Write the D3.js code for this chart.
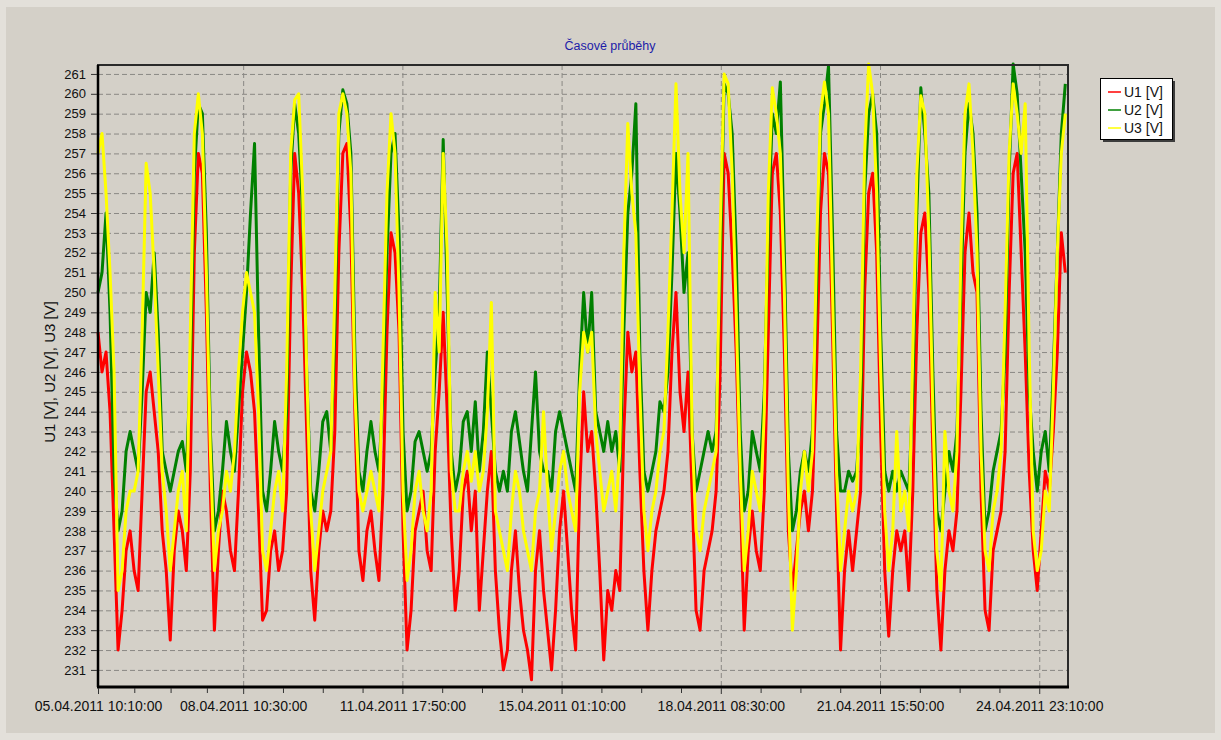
<!DOCTYPE html>
<html>
<head>
<meta charset="utf-8">
<script src="https://cdn.jsdelivr.net/npm/d3@7"></script>
<style>
  body { margin: 0; background: #d4d0c8; }
  svg { display: block; font-family: "Liberation Sans", Arial, sans-serif; }
</style>
</head>
<body>
<div id="chart"></div>
<script>
// Time range of the recording (samples every 2 hours)
const startTime = '05.04.2011 10:10:00';
const endTime = '25.04.2011 13:30:00';
const stepHours = 2;

// Labelled ticks on the time axis
const xTickLabels = [
    '05.04.2011 10:10:00', '08.04.2011 10:30:00', '11.04.2011 17:50:00',
    '15.04.2011 01:10:00', '18.04.2011 08:30:00', '21.04.2011 15:50:00',
    '24.04.2011 23:10:00'
];

const yTicks = [231, 232, 233, 234, 235, 236, 237, 238, 239, 240, 241, 242, 243, 244, 245, 246,
    247, 248, 249, 250, 251, 252, 253, 254, 255, 256, 257, 258, 259, 260, 261];

const seriesNames = ['U1 [V]', 'U2 [V]', 'U3 [V]'];
const seriesColors = ['#ff0000', '#008000', '#ffff00'];

// Voltages, one value per 2 h
const u1 = [
    248, 246, 247, 244, 238, 232, 234, 237, 238, 236,
    235, 240, 245, 246, 244, 242, 238, 236, 232.5, 237,
    239, 238, 236, 241, 252, 257, 256, 249, 240, 233,
    237, 240, 239, 237, 236, 240, 245, 247, 246, 244,
    239, 233.5, 234, 237, 238, 236, 237, 240, 250, 257,
    255, 250, 243, 236, 233.5, 237, 239, 238, 239, 243,
    252, 257, 257.5, 253, 244, 237, 235.5, 238, 239, 237,
    235.5, 240, 248, 253, 252, 248, 238, 232, 234, 238,
    239, 240, 237, 236, 242, 245, 249, 244, 238, 234,
    236, 240, 241, 238, 240, 234, 237, 240, 242, 236,
    233, 231, 232, 236, 238, 235, 233, 232, 230.5, 236,
    238, 235, 233, 231, 234, 238, 240, 237, 234, 232,
    240, 245, 242, 243, 240, 236, 231.5, 235, 234, 236,
    235, 243, 248, 246, 247, 241, 236, 233, 236, 238,
    239, 240, 242, 247, 250, 245, 243, 246, 240, 234,
    233, 236, 237, 238, 240, 246, 257, 256, 252, 247,
    240, 233, 237, 239, 237, 236, 240, 248, 256, 257,
    254, 247, 238, 235, 237, 239, 240, 238, 240, 246,
    254, 257, 256, 248, 239, 232, 236, 238, 236, 238,
    240, 250, 255, 256, 252, 243, 236, 232.7, 236, 238,
    237, 238, 235, 240, 248, 253, 254, 250, 242, 235,
    232, 236, 238, 237, 239, 245, 252, 254, 251, 250,
    240, 234, 233, 237, 238, 239, 242, 250, 256, 257,
    252, 247, 241, 237, 235, 238, 241, 240, 243, 247,
    253, 251
];
const u2 = [
    250, 251, 254, 249, 241, 238, 239, 242, 243, 242,
    241, 245, 250, 249, 252, 248, 242, 241, 240, 241,
    242, 242.5, 241, 246, 256, 259.5, 259, 253, 243, 238,
    239, 241, 243.5, 242, 241, 244, 247, 250, 254, 257.5,
    248, 240, 239, 241, 243.5, 242, 241, 244, 256, 259.5,
    258, 254, 246, 240, 239, 241, 243.5, 244, 242, 248,
    258, 260.2, 259.5, 257, 247, 241, 240, 242, 243.5, 242,
    241, 245, 252, 257, 258, 253, 243, 239, 240, 242.5,
    243, 242, 241, 242, 246, 249, 257.7, 250, 242, 240,
    241, 243.5, 244, 242, 244.5, 241, 243, 247, 244, 241,
    240, 241, 240, 243, 244, 242.5, 241, 240, 243, 246,
    242, 241, 241, 240, 243, 244, 243, 242, 241, 240,
    246, 250, 247, 250, 244, 243, 242, 243.5, 242, 243,
    241, 248, 254, 256, 259.5, 247, 241, 240, 241, 242,
    244.5, 244, 246, 251, 257, 254, 250, 252, 243, 240,
    241, 242, 243, 242, 243, 251, 260.5, 260, 258, 252,
    243, 239, 240, 243, 242, 241, 245, 253, 259, 258,
    260.6, 252, 242, 238, 239, 241, 242, 241, 243, 250,
    258, 259.5, 261.4, 253, 243, 240, 240, 241, 240.5, 241,
    244, 255, 259, 260, 258, 248, 241, 240, 241, 240,
    241, 240.5, 240, 245, 254, 260.3, 258, 255, 246, 239,
    238, 240, 242, 241, 243, 250, 257, 259.5, 258, 254,
    244, 238, 239, 241, 242, 243, 247, 256, 261.5, 260,
    256, 252, 245, 242, 240, 242, 243, 241, 246, 252,
    258, 260.5
];
const u3 = [
    257, 258, 255, 251, 246, 235, 236, 239, 240, 240,
    241, 248, 256.5, 255, 251, 246, 241, 239, 236, 238,
    240, 241, 238, 248, 258, 260, 258, 251, 242, 236,
    238, 239, 241, 240, 242, 246, 249, 251, 250, 249,
    244, 237, 236, 238, 240, 241, 239, 246, 257, 259.7,
    260, 255, 246, 239, 236, 238, 240, 241, 242, 250,
    259, 260, 259, 256, 245, 240, 239, 240, 241, 240,
    239, 247, 255, 259, 257, 250, 240, 235.5, 237, 240,
    241, 239, 238, 240, 250, 247, 257, 252, 241, 239,
    239, 241, 242, 240.5, 242, 240, 241, 244, 249.5, 239,
    238, 237, 236, 239, 241, 240, 238, 237, 236, 239,
    240, 244, 240, 237, 239, 241, 242, 240, 239, 238,
    245, 248, 247, 248, 243, 241, 239, 240, 241, 239,
    242, 252, 258.5, 255, 253, 245, 239, 237, 239, 240,
    242, 243, 248, 254, 260.5, 255, 252, 257, 243, 238,
    237, 239, 240, 241, 242, 253, 261, 260.5, 256, 249,
    241, 236, 238, 241, 240, 239, 244, 255, 260.3, 259,
    257, 250, 240, 233, 236, 240, 242, 240, 242, 252,
    259, 260.6, 259, 250, 241, 236, 238, 240, 239, 240,
    246, 257, 261.5, 260, 255, 246, 239, 236, 238, 243,
    239, 240, 238, 247, 256, 259.9, 259, 253, 244, 237,
    235, 243, 240, 239, 242, 252, 259, 260.5, 257, 252,
    242, 237, 236, 239, 240, 242, 249, 257, 260.5, 259,
    257, 259.5, 247, 238, 236, 237, 240, 239, 245, 252,
    257, 259
];

async function draw() {
    const dimensions = {
        width: 1221,
        height: 740,
        left: 98,
        top: 65,
        right: 1068,
        bottom: 687
    };

    const parseTime = d3.timeParse('%d.%m.%Y %H:%M:%S');
    const formatTime = d3.timeFormat('%d.%m.%Y %H:%M:%S');
    const start = parseTime(startTime);
    const times = u1.map((d, i) => d3.timeHour.offset(start, i * stepHours));
    const majorTicks = xTickLabels.map(parseTime);

    // minor ticks split every labelled interval in 4
    const minorTicks = [];
    for (let i = 0; i < majorTicks.length - 1; i += 1) {
        const a = +majorTicks[i], b = +majorTicks[i + 1];
        for (let k = 1; k < 4; k += 1) minorTicks.push(new Date(a + (b - a) * k / 4));
    }

    const xScale = d3.scaleTime()
        .domain([start, parseTime(endTime)])
        .range([dimensions.left, dimensions.right]);
    const yScale = d3.scaleLinear()
        .domain([230.14, 261.45])
        .range([dimensions.bottom, dimensions.top]);

    const svg = d3.select('#chart')
        .append('svg')
        .attr('width', dimensions.width)
        .attr('height', dimensions.height);

    // window background with a light outer rim
    svg.append('rect')
        .attr('width', dimensions.width).attr('height', dimensions.height)
        .attr('fill', '#e3e0da');
    svg.append('rect')
        .attr('x', 6).attr('y', 7)
        .attr('width', dimensions.width - 12).attr('height', dimensions.height - 14)
        .attr('fill', '#d4d0c8');

    // Grid
    const grid = svg.append('g')
        .attr('stroke', '#8a8884')
        .attr('stroke-dasharray', '5,3');
    grid.selectAll('line.h')
        .data(yTicks)
        .join('line')
        .attr('class', 'h')
        .attr('x1', dimensions.left).attr('x2', dimensions.right)
        .attr('y1', d => yScale(d) + 0.5).attr('y2', d => yScale(d) + 0.5);
    grid.selectAll('line.v')
        .data(majorTicks.slice(1))
        .join('line')
        .attr('class', 'v')
        .attr('x1', d => xScale(d) + 0.5).attr('x2', d => xScale(d) + 0.5)
        .attr('y1', dimensions.top).attr('y2', dimensions.bottom);

    // Lines
    const lineGenerator = d3.line()
        .x((d, i) => xScale(times[i]))
        .y(d => yScale(d));

    svg.append('g')
        .selectAll('path')
        .data([u1, u2, u3])
        .join('path')
        .attr('d', lineGenerator)
        .attr('fill', 'none')
        .attr('stroke', (d, i) => seriesColors[i])
        .attr('stroke-width', 3)
        .attr('stroke-linejoin', 'round');

    // Frame
    svg.append('rect')
        .attr('x', dimensions.left).attr('y', dimensions.top)
        .attr('width', dimensions.right - dimensions.left)
        .attr('height', dimensions.bottom - dimensions.top)
        .attr('fill', 'none')
        .attr('stroke', '#2a2a2a')
        .attr('stroke-width', 2);
    svg.append('line')
        .attr('x1', dimensions.left).attr('x2', dimensions.left)
        .attr('y1', dimensions.top).attr('y2', dimensions.bottom)
        .attr('stroke', '#000').attr('stroke-width', 2.5);
    svg.append('line')
        .attr('x1', dimensions.left - 1).attr('x2', dimensions.right + 1)
        .attr('y1', dimensions.bottom).attr('y2', dimensions.bottom)
        .attr('stroke', '#000').attr('stroke-width', 3);

    // Axes
    const yAxis = svg.append('g')
        .attr('transform', `translate(${dimensions.left - 1}, 0)`)
        .call(d3.axisLeft(yScale).tickValues(yTicks).tickSize(6).tickPadding(5).tickFormat(d3.format('d')));
    const xAxis = svg.append('g')
        .attr('transform', `translate(0, ${dimensions.bottom + 1})`)
        .call(d3.axisBottom(xScale).tickValues(majorTicks).tickSize(6).tickPadding(7).tickFormat(formatTime));
    svg.append('g')
        .attr('transform', `translate(0, ${dimensions.bottom + 1})`)
        .call(d3.axisBottom(xScale).tickValues(minorTicks).tickSize(5).tickFormat(''))
        .call(g => g.select('.domain').remove());

    [yAxis, xAxis].forEach(g => {
        g.select('.domain').remove();
        g.selectAll('text').attr('fill', '#111').style('font-size', '13px');
    });
    xAxis.selectAll('text').style('font-size', '14px');
    svg.selectAll('.tick line').attr('stroke', '#333');

    // Title and axis label
    svg.append('text')
        .attr('x', 610).attr('y', 50)
        .attr('text-anchor', 'middle')
        .attr('fill', '#1c1ca8')
        .style('font-size', '12.5px')
        .text('Časové průběhy');
    svg.append('text')
        .attr('transform', 'translate(55, 372) rotate(-90)')
        .attr('text-anchor', 'middle')
        .attr('fill', '#111')
        .style('font-size', '15px')
        .text('U1 [V], U2 [V], U3 [V]');

    // Legend
    const legend = svg.append('g').attr('transform', 'translate(1100, 78)');
    legend.append('rect')
        .attr('x', 3).attr('y', 3).attr('width', 72).attr('height', 61)
        .attr('fill', '#3c3c3c');
    legend.append('rect')
        .attr('x', 0.5).attr('y', 0.5).attr('width', 72).attr('height', 61)
        .attr('fill', '#fff').attr('stroke', '#000');
    const entries = legend.selectAll('g.entry')
        .data(seriesNames)
        .join('g')
        .attr('class', 'entry')
        .attr('transform', (d, i) => `translate(0, ${14 + i * 18})`);
    entries.append('line')
        .attr('x1', 8).attr('x2', 21)
        .attr('stroke', (d, i) => seriesColors[i])
        .attr('stroke-width', 1.5);
    entries.append('text')
        .attr('x', 24).attr('dy', '0.35em')
        .attr('fill', '#111')
        .style('font-size', '14px')
        .text(d => d);
}

draw();
</script>
</body>
</html>
